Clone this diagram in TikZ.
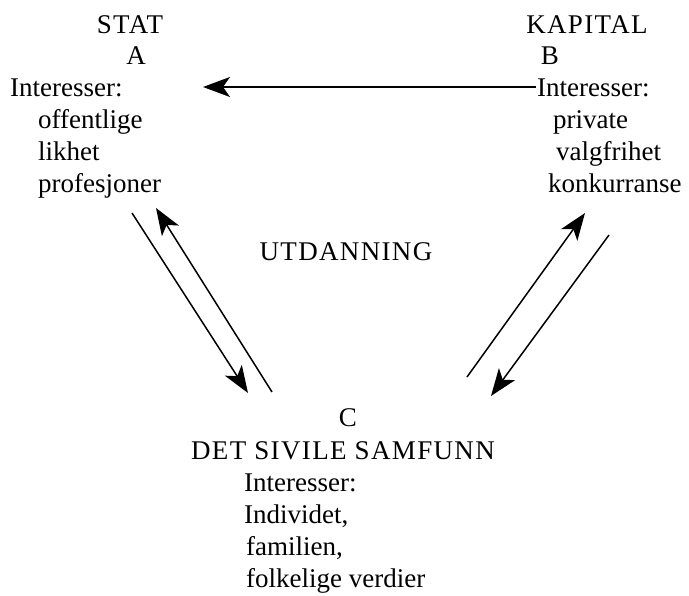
\documentclass[tikz,border=0pt]{standalone}
\usepackage{fontspec}
\setmainfont{Liberation Serif}
\newfontfamily\capsfont[LetterSpace=5]{Liberation Serif}
\usetikzlibrary{arrows.meta}
\begin{document}
\begin{tikzpicture}[x=1pt,y=-1pt,
  txt/.style={inner sep=0pt, font=\fontsize{27}{32}\selectfont},
  captxt/.style={inner sep=0pt, font=\fontsize{27}{32}\selectfont\capsfont},
  conn/.style={line width=1.5pt, -{Stealth[length=27pt,width=20pt,inset=7pt]}}]
\useasboundingbox (0,0) rectangle (689,596);
% top left
\node[captxt, anchor=base] (stat) at (130,34) {STAT};
\node[captxt, anchor=base] (a) at (136,65) {A};
\node[txt, anchor=base west] (intA) at (10,97) {Interesser:};
\node[txt, anchor=base west] (offA) at (38,129) {offentlige};
\node[txt, anchor=base west] (likA) at (38,161) {likhet};
\node[txt, anchor=base west] (proA) at (38,193) {profesjoner};
% top right
\node[captxt, anchor=base] (kap) at (587,34) {KAPITAL};
\node[captxt, anchor=base] (b) at (550,65) {B};
\node[txt, anchor=base west] (intB) at (537,97) {Interesser:};
\node[txt, anchor=base west] (priB) at (553,129) {private};
\node[txt, anchor=base west] (valB) at (556,161) {valgfrihet};
\node[txt, anchor=base west] (konB) at (548,193) {konkurranse};
% middle
\node[captxt, anchor=base] (utd) at (346,261) {UTDANNING};
% bottom
\node[captxt, anchor=base] (c) at (348,427) {C};
\node[captxt, anchor=base] (dss) at (343,459) {DET SIVILE SAMFUNN};
\node[txt, anchor=base west] (intC) at (244,491) {Interesser:};
\node[txt, anchor=base west] (indC) at (244,523) {Individet,};
\node[txt, anchor=base west] (famC) at (246,555) {familien,};
\node[txt, anchor=base west] (folC) at (246,587) {folkelige verdier};
% connector endpoints
\coordinate (hB) at (536,87);
\coordinate (hA) at (203,87);
\coordinate (l1s) at (132,213);
\coordinate (l1e) at (248,393);
\coordinate (l2s) at (272,392);
\coordinate (l2e) at (156,208);
\coordinate (r1s) at (467,377);
\coordinate (r1e) at (585,213);
\coordinate (r2s) at (609,235);
\coordinate (r2e) at (491,396);
\draw[conn] (hB) -- (hA);
\draw[conn] (l1s) -- (l1e);
\draw[conn] (l2s) -- (l2e);
\draw[conn] (r1s) -- (r1e);
\draw[conn] (r2s) -- (r2e);
\end{tikzpicture}
\end{document}
